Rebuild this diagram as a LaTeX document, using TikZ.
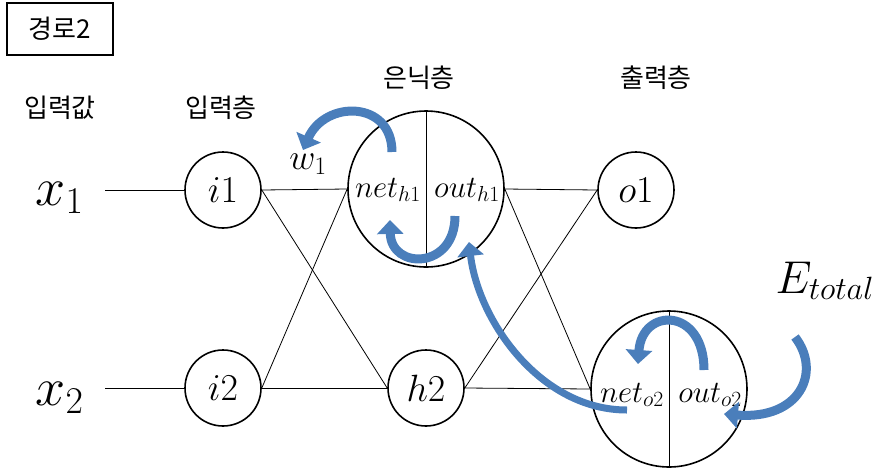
\RequirePackage{fix-cm}
\documentclass[tikz,border=0pt]{standalone}
\usepackage{fontspec}
\newfontfamily\kr{Noto Sans CJK KR}
\usetikzlibrary{arrows.meta}

\definecolor{flowblue}{RGB}{74, 126, 187}

\tikzset{
  neuron/.style={circle, draw, line width=1.6pt, minimum size=76pt, inner sep=0pt, font=\fontsize{38}{42}\selectfont},
  bigneuron/.style={circle, draw, line width=1.6pt, minimum size=156pt, inner sep=0pt},
  link/.style={line width=0.8pt},
  flow/.style={flowblue, line width=9pt, -{Triangle[width=26pt, length=14pt]}},
  layer/.style={font=\kr\fontsize{26}{30}\selectfont},
  part/.style={font=\fontsize{31}{34}\selectfont, anchor=base},
}

\begin{document}
\begin{tikzpicture}[x=1pt, y=-1pt]
  \useasboundingbox (0,0) rectangle (879,467);

  % Title box
  \node[draw, line width=1.4pt, minimum width=106pt, minimum height=52pt, layer] (title) at (60,29) {경로2};

  % Layer labels
  \node[layer] (inval) at (60,108) {입력값};
  \node[layer] (inlayer) at (221,108) {입력층};
  \node[layer] (hidlayer) at (419,78) {은닉층};
  \node[layer] (outlayer) at (656,78) {출력층};

  % Inputs
  \node[anchor=base west, font=\fontsize{54}{58}\selectfont] (x1) at (32,205) {$x_1$};
  \node[anchor=base west, font=\fontsize{54}{58}\selectfont] (x2) at (32,405) {$x_2$};
  \coordinate (x1in) at (105,190);
  \coordinate (x2in) at (105,388);

  % Neurons
  \node[neuron] (i1) at (223,190) {$i1$};
  \node[neuron] (i2) at (223,388) {$i2$};
  \node[bigneuron] (h1) at (426,189) {};
  \node[neuron] (h2) at (426,388) {$h2$};
  \node[neuron] (o1) at (636,190) {$o1$};
  \node[bigneuron] (o2) at (669,389) {};
  \draw[link] (h1.north) -- (h1.south);
  \draw[link] (o2.north) -- (o2.south);

  % Halves of the split neurons
  \node[part] (neth1) at (388,197) {$net_{h1}$};
  \node[part] (outh1) at (467,197) {$out_{h1}$};
  \node[part] (neto2) at (632,402) {$net_{o2}$};
  \node[part] (outo2) at (710,402) {$out_{o2}$};

  % Weights and error
  \node[font=\fontsize{36}{40}\selectfont] (w1) at (308,164) {$w_1$};
  \node[anchor=base west, font=\fontsize{46}{50}\selectfont] (etotal) at (772,293) {$E_{total}$};

  % Connections
  \draw[link] (x1in) -- (i1.west);
  \draw[link] (x2in) -- (i2.west);
  \draw[link] (i1.east) -- (h1.west);
  \draw[link] (i1.east) -- (h2.west);
  \draw[link] (i2.east) -- (h1.west);
  \draw[link] (i2.east) -- (h2.west);
  \draw[link] (h1.east) -- (o1.west);
  \draw[link] (h1.east) -- (o2.west);
  \draw[link] (h2.east) -- (o1.west);
  \draw[link] (h2.east) -- (o2.west);

  % Backpropagation path
  \coordinate (eout) at (795,337);
  \coordinate (outo2in) at (724,414);
  \coordinate (outo2top) at (704,370);
  \coordinate (neto2top) at (638,364);
  \coordinate (neto2low) at (627,410);
  \coordinate (outh1low) at (469,242);
  \coordinate (outh1in) at (455,216);
  \coordinate (neth1low) at (390,220);
  \coordinate (neth1top) at (392,152);
  \coordinate (w1top) at (303,150);
  \draw[flow] (eout) .. controls (822,372) and (800,420) .. (outo2in);
  \draw[flow] (outo2top) .. controls (704,307) and (642,307) .. (neto2top);
  \draw[flow, line width=7pt] (neto2low) .. controls (540,410) and (478,320) .. (outh1low);
  \draw[flow] (outh1in) .. controls (455,270) and (391,270) .. (neth1low);
  \draw[flow] (neth1top) .. controls (392,100) and (325,100) .. (w1top);
\end{tikzpicture}
\end{document}
